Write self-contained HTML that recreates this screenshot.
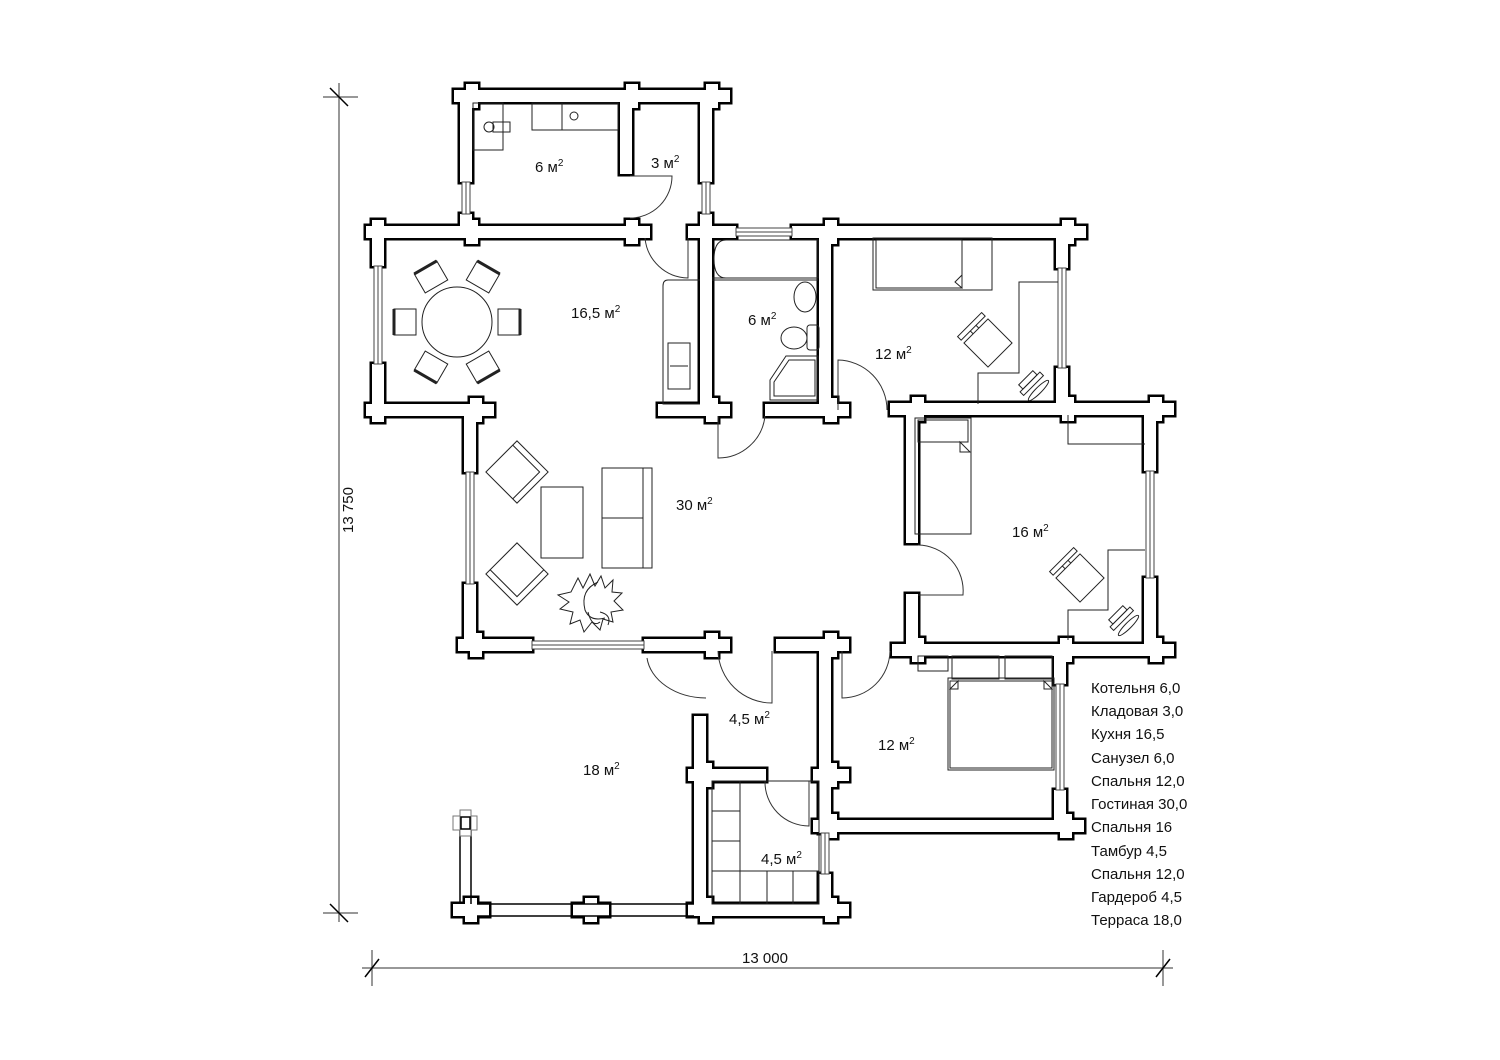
<!DOCTYPE html>
<html><head><meta charset="utf-8"><style>
html,body{margin:0;padding:0;background:#fff;}
svg{display:block;}
text{font-family:"Liberation Sans",Arial,sans-serif;fill:#111;}
</style></head><body>
<svg width="1500" height="1060" viewBox="0 0 1500 1060" xmlns="http://www.w3.org/2000/svg">
<defs>
<g id="W">
<rect x="460" y="90" width="252" height="12"/>
<rect x="460" y="90" width="12" height="92"/>
<rect x="460" y="214" width="12" height="24"/>
<rect x="620" y="90" width="12" height="84"/>
<rect x="700" y="90" width="12" height="92"/>
<rect x="700" y="214" width="12" height="24"/>
<rect x="372" y="226" width="272" height="12"/>
<rect x="690" y="226" width="46" height="12"/>
<rect x="792" y="226" width="276" height="12"/>
<rect x="372" y="226" width="12" height="40"/>
<rect x="372" y="364" width="12" height="52"/>
<rect x="372" y="404" width="104" height="12"/>
<rect x="464" y="404" width="12" height="68"/>
<rect x="464" y="584" width="12" height="67"/>
<rect x="464" y="639" width="68" height="12"/>
<rect x="644" y="639" width="72" height="12"/>
<rect x="700" y="226" width="12" height="190"/>
<rect x="658" y="404" width="58" height="12"/>
<rect x="765" y="404" width="72" height="12"/>
<rect x="819" y="226" width="12" height="190"/>
<rect x="890" y="403" width="270" height="12"/>
<rect x="1056" y="226" width="12" height="42"/>
<rect x="1056" y="368" width="12" height="46"/>
<rect x="906" y="403" width="12" height="140"/>
<rect x="906" y="594" width="12" height="62"/>
<rect x="1144" y="403" width="12" height="68"/>
<rect x="1144" y="578" width="12" height="78"/>
<rect x="892" y="644" width="268" height="12"/>
<rect x="776" y="639" width="62" height="12"/>
<rect x="819" y="639" width="12" height="194"/>
<rect x="819" y="874" width="12" height="42"/>
<rect x="1054" y="644" width="12" height="40"/>
<rect x="1054" y="790" width="12" height="42"/>
<rect x="815" y="820" width="255" height="12"/>
<rect x="694" y="716" width="12" height="200"/>
<rect x="690" y="769" width="76" height="12"/>
<rect x="690" y="904" width="146" height="12"/>
</g>
<g id="JJ">
<path d="M454,90h12v-6h12v6h12v12h-12v6h-12v-6h-12z"/>
<path d="M614,90h12v-6h12v6h12v12h-12v6h-12v-6h-12z"/>
<path d="M694,90h12v-6h12v6h12v12h-12v6h-12v-6h-12z"/>
<path d="M366,226h6v-6h12v6h6v12h-6v6h-12v-6h-6z"/>
<path d="M454,226h12v-6h12v6h12v12h-12v6h-12v-6h-12z"/>
<path d="M614,226h12v-6h12v6h12v12h-12v6h-12v-6h-12z"/>
<path d="M688,226h12v-6h12v6h12v12h-12v6h-12v-6h-12z"/>
<path d="M813,226h12v-6h12v6h12v12h-12v6h-12v-6h-12z"/>
<path d="M1050,226h12v-6h12v6h12v12h-12v6h-12v-6h-12z"/>
<path d="M366,404h6v-6h12v6h6v12h-6v6h-12v-6h-6z"/>
<path d="M458,404h12v-6h12v6h12v12h-12v6h-12v-6h-12z"/>
<path d="M694,404h12v-6h12v6h12v12h-12v6h-12v-6h-12z"/>
<path d="M813,404h12v-6h12v6h12v12h-12v6h-12v-6h-12z"/>
<path d="M900,403h12v-6h12v6h12v12h-12v6h-12v-6h-12z"/>
<path d="M1050,403h12v-6h12v6h12v12h-12v6h-12v-6h-12z"/>
<path d="M1138,403h12v-6h12v6h12v12h-12v6h-12v-6h-12z"/>
<path d="M458,639h12v-6h12v6h12v12h-12v6h-12v-6h-12z"/>
<path d="M694,639h12v-6h12v6h12v12h-12v6h-12v-6h-12z"/>
<path d="M813,639h12v-6h12v6h12v12h-12v6h-12v-6h-12z"/>
<path d="M900,644h12v-6h12v6h12v12h-12v6h-12v-6h-12z"/>
<path d="M1048,644h12v-6h12v6h12v12h-12v6h-12v-6h-12z"/>
<path d="M1138,644h12v-6h12v6h12v12h-12v6h-12v-6h-12z"/>
<path d="M688,769h12v-6h12v6h12v12h-12v6h-12v-6h-12z"/>
<path d="M813,769h12v-6h12v6h12v12h-12v6h-12v-6h-12z"/>
<path d="M813,820h12v-6h12v6h12v12h-12v6h-12v-6h-12z"/>
<path d="M1048,820h12v-6h12v6h12v12h-12v6h-12v-6h-12z"/>
<path d="M453,904h12v-6h12v6h12v12h-12v6h-12v-6h-12z"/>
<path d="M573,904h12v-6h12v6h12v12h-12v6h-12v-6h-12z"/>
<path d="M688,904h12v-6h12v6h12v12h-12v6h-12v-6h-12z"/>
<path d="M813,904h12v-6h12v6h12v12h-12v6h-12v-6h-12z"/>
</g>
</defs>
<use href="#W" fill="#000" stroke="#000" stroke-width="5"/>
<use href="#JJ" fill="#000" stroke="#000" stroke-width="5"/>
<use href="#W" fill="#fff" stroke="none"/>
<use href="#JJ" fill="#fff" stroke="none"/>

<g stroke="#000" stroke-width="1.5" fill="none">
<line x1="477" y1="904" x2="694" y2="904"/>
<line x1="477" y1="916" x2="694" y2="916"/>
<line x1="460" y1="830" x2="460" y2="904"/>
<line x1="471" y1="830" x2="471" y2="904"/>
</g>
<g fill="#fff" stroke="#000" stroke-width="1">
<rect x="453" y="816" width="24" height="14" stroke="#777"/>
<rect x="460" y="810" width="11" height="26" stroke="#777"/>
<rect x="461" y="817" width="9" height="12" stroke-width="1.5"/>
</g>

<g fill="#fff" stroke="#444" stroke-width="1">
<rect x="462" y="182" width="8" height="32"/><line x1="466" y1="182" x2="466" y2="214"/>
<rect x="702" y="182" width="8" height="32"/><line x1="706" y1="182" x2="706" y2="214"/>
<rect x="736" y="228" width="56" height="8"/><line x1="736" y1="232" x2="792" y2="232"/>
<rect x="374" y="266" width="8" height="98"/><line x1="378" y1="266" x2="378" y2="364"/>
<rect x="466" y="472" width="8" height="112"/><line x1="470" y1="472" x2="470" y2="584"/>
<rect x="532" y="641" width="112" height="8"/><line x1="532" y1="645" x2="644" y2="645"/>
<rect x="1058" y="268" width="8" height="100"/><line x1="1062" y1="268" x2="1062" y2="368"/>
<rect x="1146" y="471" width="8" height="107"/><line x1="1150" y1="471" x2="1150" y2="578"/>
<rect x="1056" y="684" width="8" height="106"/><line x1="1060" y1="684" x2="1060" y2="790"/>
<rect x="821" y="833" width="8" height="41"/><line x1="825" y1="833" x2="825" y2="874"/>
</g>

<g fill="none" stroke="#333" stroke-width="1">
<path d="M630,176 H672 A42,42 0 0 1 630,218"/>
<path d="M645,238 A44,44 0 0 0 688,278 V238"/>
<path d="M718,416 V458 A47,47 0 0 0 765,416"/>
<path d="M838,410 V360 A50,50 0 0 1 887,410"/>
<path d="M918,545 A46,46 0 0 1 963,595 H918"/>
<path d="M647,658 A60,45 0 0 0 706,698"/>
<path d="M772,651 V703 A54,54 0 0 1 718,651"/>
<path d="M842,651 V698 A48,48 0 0 0 890,651"/>
<path d="M809,781 V826 A44,44 0 0 1 765,781"/>
</g>

<g fill="none" stroke="#222" stroke-width="1">
<rect x="473" y="103" width="30" height="47"/>
<rect x="493" y="122" width="17" height="10"/>
<circle cx="489" cy="127" r="5"/>
<rect x="532" y="103" width="86" height="27"/>
<line x1="562" y1="103" x2="562" y2="130"/>
<circle cx="574" cy="116" r="4"/>
<circle cx="457" cy="322" r="35"/>
<g transform="translate(457,322)">
<g transform="rotate(-90) translate(0,-52)"><rect x="-13" y="-11" width="26" height="22"/><line x1="-13" y1="-11" x2="13" y2="-11" stroke-width="3"/></g>
<g transform="rotate(-150) translate(0,-52)"><rect x="-13" y="-11" width="26" height="22"/><line x1="-13" y1="-11" x2="13" y2="-11" stroke-width="3"/></g>
<g transform="rotate(-30) translate(0,-52)"><rect x="-13" y="-11" width="26" height="22"/><line x1="-13" y1="-11" x2="13" y2="-11" stroke-width="3"/></g>
<g transform="rotate(90) translate(0,-52)"><rect x="-13" y="-11" width="26" height="22"/><line x1="-13" y1="-11" x2="13" y2="-11" stroke-width="3"/></g>
<g transform="rotate(150) translate(0,-52)"><rect x="-13" y="-11" width="26" height="22"/><line x1="-13" y1="-11" x2="13" y2="-11" stroke-width="3"/></g>
<g transform="rotate(30) translate(0,-52)"><rect x="-13" y="-11" width="26" height="22"/><line x1="-13" y1="-11" x2="13" y2="-11" stroke-width="3"/></g>
</g>
<path d="M700,280 H668 Q663,280 663,286 V404 H700"/>
<rect x="668" y="343" width="22" height="46"/>
<line x1="670" y1="366" x2="688" y2="366"/>
<path d="M712,278 H818 V240 H726 Q714,240 714,259 Q714,278 726,278"/>
<line x1="712" y1="280" x2="818" y2="280"/>
<ellipse cx="805" cy="297" rx="11" ry="15"/>
<ellipse cx="794" cy="338" rx="13" ry="11"/>
<rect x="807" y="325" width="12" height="25" rx="3"/>
<path d="M786,356 H818 V400 H770 V380 Z"/>
<path d="M789,360 H815 V396 H774 V382 Z"/>
<rect x="873" y="238" width="119" height="52"/>
<rect x="876" y="240" width="86" height="48"/>
<path d="M955,282 L962,275 V288 Z"/>
<polyline points="1058,282 1019,282 1019,373 978,373 978,404"/>
<g transform="translate(988,343) rotate(-45)"><rect x="-17" y="-17" width="34" height="34"/><rect x="-17" y="-26" width="34" height="5"/><line x1="-4" y1="-21" x2="-4" y2="-17"/><line x1="4" y1="-21" x2="4" y2="-17"/></g>
<g transform="translate(1030,382) rotate(-45)"><rect x="-10" y="-6" width="20" height="6"/><rect x="-14" y="0" width="28" height="5"/><ellipse cx="0" cy="12" rx="14" ry="3"/></g>
<rect x="915" y="418" width="56" height="116"/>
<rect x="918" y="420" width="50" height="22"/>
<path d="M960,442 L970,452 H960 Z"/>
<polyline points="1068,415 1068,444 1145,444"/>
<polyline points="1145,550 1108,550 1108,610 1068,610 1068,640"/>
<g transform="translate(1080,578) rotate(-45)"><rect x="-17" y="-17" width="34" height="34"/><rect x="-17" y="-26" width="34" height="5"/><line x1="-4" y1="-21" x2="-4" y2="-17"/><line x1="4" y1="-21" x2="4" y2="-17"/></g>
<g transform="translate(1120,617) rotate(-45)"><rect x="-10" y="-6" width="20" height="6"/><rect x="-14" y="0" width="28" height="5"/><ellipse cx="0" cy="12" rx="14" ry="3"/></g>
<rect x="918" y="656" width="30" height="15"/>
<rect x="948" y="678" width="106" height="92"/>
<rect x="950" y="681" width="102" height="87"/>
<rect x="952" y="656" width="47" height="23"/>
<rect x="1005" y="656" width="47" height="23"/>
<path d="M950,689 L958,681 V689 Z M1052,689 L1044,681 V689 Z"/>
<g transform="translate(517,472) rotate(45)"><rect x="-22" y="-22" width="44" height="44"/><polyline points="-22,-16 16,-16 16,22"/></g>
<g transform="translate(517,574) rotate(135)"><rect x="-22" y="-22" width="44" height="44"/><polyline points="-22,-16 16,-16 16,22"/></g>
<rect x="541" y="487" width="42" height="71"/>
<rect x="602" y="468" width="50" height="100"/>
<line x1="643" y1="468" x2="643" y2="568"/>
<line x1="602" y1="518" x2="643" y2="518"/>
<path d="M578,578 L583,588 L590,574 L595,586 L601,576 L605,588 L613,580 L612,592 L622,593 L614,601 L623,610 L611,612 L613,622 L603,619 L600,630 L592,622 L584,632 L580,620 L570,624 L573,612 L560,609 L569,602 L558,595 L571,592 Z"/>
<path d="M598,582 Q580,590 585,610 Q590,622 605,618"/>
<path d="M588,612 Q592,628 600,622 M600,612 Q612,615 608,625"/>
<rect x="712" y="781" width="107" height="123"/>
<line x1="740" y1="781" x2="740" y2="904"/>
<line x1="712" y1="811" x2="740" y2="811"/>
<line x1="712" y1="841" x2="740" y2="841"/>
<line x1="712" y1="871" x2="819" y2="871"/>
<line x1="767" y1="871" x2="767" y2="904"/>
<line x1="793" y1="871" x2="793" y2="904"/>
</g>

<g stroke="#777" stroke-width="1.5">
<line x1="339" y1="83" x2="339" y2="922"/>
<line x1="323" y1="97" x2="358" y2="97"/>
<line x1="323" y1="913" x2="358" y2="913"/>
<line x1="362" y1="968" x2="1173" y2="968"/>
<line x1="372" y1="950" x2="372" y2="986"/>
<line x1="1163" y1="950" x2="1163" y2="986"/>
</g>
<g stroke="#000" stroke-width="1.5">
<line x1="330" y1="88" x2="348" y2="106"/>
<line x1="330" y1="904" x2="348" y2="922"/>
<line x1="365" y1="977" x2="379" y2="959"/>
<line x1="1156" y1="977" x2="1170" y2="959"/>
</g>
<text x="765" y="963" font-size="15" text-anchor="middle">13 000</text>
<text transform="translate(353,510) rotate(-90)" font-size="15" text-anchor="middle">13 750</text>

<g font-size="15">
<text x="535" y="172">6 м<tspan font-size="10" dy="-6">2</tspan></text>
<text x="651" y="168">3 м<tspan font-size="10" dy="-6">2</tspan></text>
<text x="571" y="318">16,5 м<tspan font-size="10" dy="-6">2</tspan></text>
<text x="748" y="325">6 м<tspan font-size="10" dy="-6">2</tspan></text>
<text x="875" y="359">12 м<tspan font-size="10" dy="-6">2</tspan></text>
<text x="676" y="510">30 м<tspan font-size="10" dy="-6">2</tspan></text>
<text x="1012" y="537">16 м<tspan font-size="10" dy="-6">2</tspan></text>
<text x="729" y="724">4,5 м<tspan font-size="10" dy="-6">2</tspan></text>
<text x="878" y="750">12 м<tspan font-size="10" dy="-6">2</tspan></text>
<text x="583" y="775">18 м<tspan font-size="10" dy="-6">2</tspan></text>
<text x="761" y="864">4,5 м<tspan font-size="10" dy="-6">2</tspan></text>
</g>

<g font-size="15">
<text x="1091" y="693">Котельня 6,0</text>
<text x="1091" y="716">Кладовая 3,0</text>
<text x="1091" y="739">Кухня 16,5</text>
<text x="1091" y="763">Санузел 6,0</text>
<text x="1091" y="786">Спальня 12,0</text>
<text x="1091" y="809">Гостиная 30,0</text>
<text x="1091" y="832">Спальня 16</text>
<text x="1091" y="856">Тамбур 4,5</text>
<text x="1091" y="879">Спальня 12,0</text>
<text x="1091" y="902">Гардероб 4,5</text>
<text x="1091" y="925">Терраса 18,0</text>
</g>
</svg>
</body></html>
